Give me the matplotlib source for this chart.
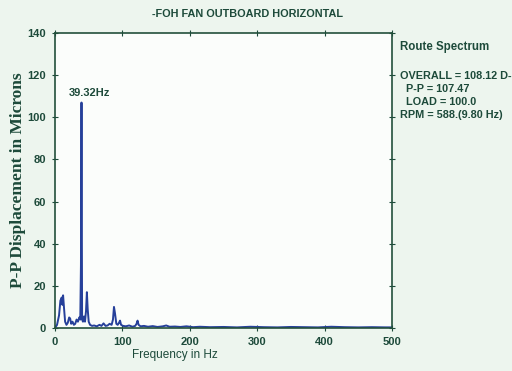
import matplotlib.pyplot as plt

# spectrum points
freq = [0, 3, 6, 8, 10, 11, 12, 13.5, 15, 17, 19, 21, 22.5, 24, 26, 28, 30,
        32, 34, 36, 37.5, 38.5, 39.32, 40.2, 41.5, 43, 44.5, 46, 47.3, 48.5,
        50, 52, 55, 58, 62, 66, 69, 72, 75, 78, 81, 84, 86, 87.5, 89, 91,
        93, 95, 96.5, 98, 101, 105, 110, 115, 119, 121, 122.5, 124, 127,
        132, 138, 145, 152, 160, 165, 170, 178, 186, 195, 205, 215, 230,
        250, 270, 290, 310, 330, 350, 370, 390, 410, 430, 450, 470, 490, 500]
amp = [0, 1.5, 6, 13, 14.5, 11, 15.5, 9, 3, 1.5, 2.5, 5, 4.5, 2, 3, 1.5, 2,
       4, 3, 5, 4, 30, 107, 4, 3, 5.5, 3, 8, 17, 9,
       3, 1.5, 1, 1.2, 0.8, 1.5, 1, 2.2, 1, 1.2, 2, 1.5, 4, 10, 7, 2,
       1.5, 2.5, 3.5, 1.5, 1, 0.8, 1.2, 0.6, 1, 2, 3.5, 1.5, 0.8,
       1, 0.6, 0.9, 0.5, 0.8, 1.2, 0.6, 0.7, 0.5, 0.8, 0.4, 0.6, 0.4,
       0.5, 0.3, 0.6, 0.4, 0.3, 0.5, 0.4, 0.3, 0.6, 0.4, 0.3, 0.4, 0.3, 0.3]

title = "-FOH FAN OUTBOARD HORIZONTAL"
peak_label = "39.32Hz"
info_lines = ["OVERALL = 108.12 D-", "  P-P = 107.47", "  LOAD = 100.0",
              "RPM = 588.(9.80 Hz)"]

sans = "Liberation Sans"
txt = "#1d4a3a"
line_col = "#26409a"

fig = plt.figure(figsize=(5.12, 3.71), dpi=100, facecolor="#edf5ee")
ax = fig.add_axes([55 / 512, 43 / 371, (392 - 55) / 512, (338 - 43) / 371])
ax.set_facecolor("#fbfdfb")

ax.plot(freq, amp, color=line_col, lw=1.4)
ax.set_xlim(0, 500)
ax.set_ylim(0, 140)
ax.set_xticks([0, 100, 200, 300, 400, 500])
ax.set_yticks(range(0, 141, 20))
ax.tick_params(direction="inout", length=5, width=0.8, colors=txt,
               top=True, right=True, labelsize=8, pad=4)
for lbl in ax.get_xticklabels() + ax.get_yticklabels():
    lbl.set_fontfamily(sans)
    lbl.set_fontweight("bold")
for s in ax.spines.values():
    s.set_color("#23503c")
    s.set_linewidth(1.2)

fig.text(175 / 512, 1 - 355 / 371, "Frequency in Hz", ha="center",
         va="center", fontsize=8.5, color=txt, family=sans)
fig.text(18 / 512, 1 - 180 / 371, "P-P Displacement in Microns", rotation=90,
         ha="center", va="center", fontsize=12.5, color=txt,
         family="Liberation Serif", fontweight="bold")

fig.text(248 / 512, 1 - 14 / 371, title, ha="center", va="center",
         fontsize=7.8, color=txt, family=sans, fontweight="bold")
ax.annotate(peak_label, xy=(39.32, 107), xytext=(-9, 5),
            textcoords="offset points", fontsize=8, color=txt,
            family=sans, fontweight="bold")

fig.text(400 / 512, 1 - 47 / 371, "Route Spectrum", ha="left", va="center",
         fontsize=8.3, color=txt, family=sans, fontweight="bold")
for i, s in enumerate(info_lines):
    fig.text(400 / 512, 1 - (76 + 13 * i) / 371, s, ha="left", va="center",
             fontsize=7.8, color=txt, family=sans, fontweight="bold")

fig.savefig("out.png", dpi=100, facecolor=fig.get_facecolor())
